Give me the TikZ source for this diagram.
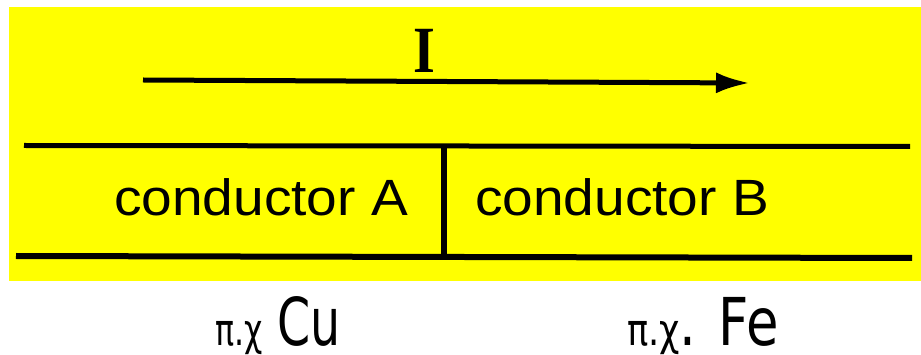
\documentclass[tikz,border=0pt]{standalone}
\usepackage{fontspec}
\setmainfont{Liberation Sans}
\newfontfamily\greekfont{DejaVu Sans}
\newfontfamily\curfont{Liberation Serif}
\usetikzlibrary{arrows.meta,positioning}
\definecolor{bgyellow}{HTML}{FFFF00}
\newcommand{\eg}{{\fontsize{44}{50}\selectfont π.χ}}
\newcommand{\narrow}[2]{\scalebox{#1}[1]{#2}}

\begin{document}
\begin{tikzpicture}[x=1pt,y=-1pt,
  every node/.style={inner sep=0pt,outer sep=0pt},
  wire/.style={line width=5pt,black},
  arr/.style={line width=5pt,black,-{Latex[length=34pt,width=21pt]}},
  cond/.style={font=\fontsize{51}{60}\selectfont,anchor=base},
  example/.style={font=\greekfont\fontsize{66}{70}\selectfont,text depth=0pt,anchor=base west}
]
\useasboundingbox (0,0) rectangle (921,355);
\fill[bgyellow] (9,7) rectangle (921,281);

% current direction
\coordinate (tail) at (143,80);
\coordinate (head) at (750,83);
\draw[arr] (tail) -- (head);
\node[font=\curfont\fontsize{66}{66}\selectfont\bfseries,anchor=base] (cur) at (424,73) {\narrow{0.85}{I}};

% the two conductors
\coordinate (topW) at (24,145.5);
\coordinate (topE) at (910,146.5);
\coordinate (botW) at (16,256);
\coordinate (botE) at (912,258);
\coordinate (jointT) at (443.5,146);
\coordinate (jointB) at (443.5,256);
\draw[wire] (topW) -- (topE);
\draw[wire,line width=6pt] (botW) -- (botE);
\draw[wire,line width=6pt] (jointT) -- (jointB);

\node[cond] (condA) at (261,216) {\narrow{1.08}{conductor A}};
\node[cond] (condB) at (622,216) {\narrow{1.08}{conductor B}};

% examples
\node[example] (exA) at (215,345) {\narrow{0.72}{\eg{} Cu}};
\node[example] (exB) at (627,345) {\narrow{0.8}{\eg. Fe}};
\end{tikzpicture}
\end{document}
